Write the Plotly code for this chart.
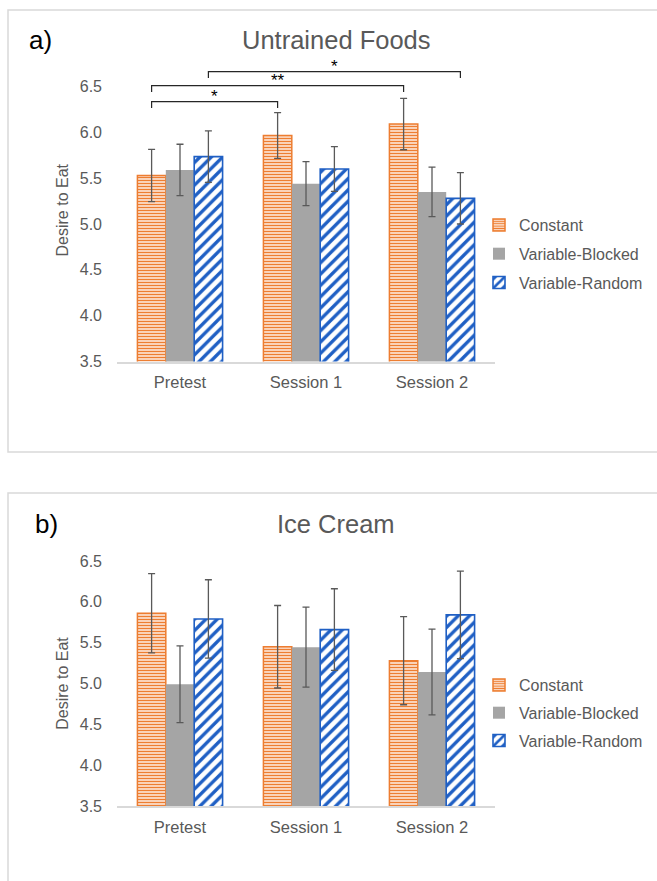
import plotly.graph_objects as go

W, H = 657, 881

categories = ["Pretest", "Session 1", "Session 2"]
series_names = ["Constant", "Variable-Blocked", "Variable-Random"]

# Panel a) Untrained Foods
a_constant = [5.53, 5.965, 6.09]
a_blocked = [5.59, 5.44, 5.35]
a_random = [5.735, 5.60, 5.28]
a_constant_err = [0.285, 0.25, 0.28]
a_blocked_err = [0.28, 0.24, 0.27]
a_random_err = [0.28, 0.245, 0.28]

# Panel b) Ice Cream
b_constant = [5.86, 5.45, 5.28]
b_blocked = [4.99, 5.445, 5.14]
b_random = [5.79, 5.66, 5.84]
b_constant_err = [0.485, 0.505, 0.54]
b_blocked_err = [0.47, 0.49, 0.525]
b_random_err = [0.48, 0.50, 0.535]

y_ticks = [3.5, 4.0, 4.5, 5.0, 5.5, 6.0, 6.5]

# significance brackets (panel a): (from category, from series, to category, to series, level, label)
brackets = [
    (0, 0, 1, 0, 6.335, "*"),
    (0, 0, 2, 0, 6.51, "**"),
    (0, 2, 2, 2, 6.662, "*"),
]
bracket_drop = 0.07

GREY_TXT = "#595959"
FONT = "Liberation Sans, Arial, sans-serif"
ORANGE = "#ED7D31"
GRAY = "#A5A5A5"
BLUE = "#1F5FC4"
BARGAP = 0.324


def px_x(p):
    return p / W


def px_y(p):
    return 1 - p / H


styles = [
    dict(color="white", line=dict(color=ORANGE, width=1.5),
         pattern=dict(shape="-", fgcolor=ORANGE, bgcolor="#FFF0E6", size=3.0, solidity=0.5,
                      fillmode="overlay", fgopacity=1)),
    dict(color=GRAY, line=dict(color=GRAY, width=0)),
    dict(color="white", line=dict(color=BLUE, width=1.6),
         pattern=dict(shape="/", fgcolor=BLUE, bgcolor="white", size=8, solidity=0.42,
                      fillmode="overlay", fgopacity=1)),
]

fig = go.Figure()

panels = [
    dict(vals=[a_constant, a_blocked, a_random], errs=[a_constant_err, a_blocked_err, a_random_err],
         xa="x", ya="y", legend="legend"),
    dict(vals=[b_constant, b_blocked, b_random], errs=[b_constant_err, b_blocked_err, b_random_err],
         xa="x2", ya="y2", legend="legend2"),
]

for p in panels:
    for i, name in enumerate(series_names):
        fig.add_trace(go.Bar(
            x=categories, y=p["vals"][i], name=name, marker=styles[i],
            error_y=dict(type="data", array=p["errs"][i], color="#595959", thickness=1.3, width=3.5),
            xaxis=p["xa"], yaxis=p["ya"], legend=p["legend"], legendgroup=p["legend"] + name,
            cliponaxis=False,
        ))

# pixel layout
x0, x1 = 117, 495
a_bot, a_unit = 361.5, 91.67
b_bot, b_unit = 806, 81.67
a_top_val = 6.8
b_top_val = 6.5

ax_common = dict(showgrid=False, zeroline=False, showline=True, linecolor="#D9D9D9", linewidth=1.5,
                 ticks="", automargin=False, ticklabelstandoff=5,
                 tickfont=dict(family=FONT, size=16.5, color=GREY_TXT), fixedrange=True)
yax_common = dict(showgrid=False, zeroline=False, showline=False, ticks="", automargin=False,
                  tickvals=y_ticks, ticktext=[f"{v:.1f}" for v in y_ticks], fixedrange=True,
                  tickfont=dict(family=FONT, size=16, color=GREY_TXT), ticklabelstandoff=14,
                  title=dict(text="Desire to Eat", font=dict(family=FONT, size=16, color=GREY_TXT), standoff=7))

LEG_FONT = dict(family=FONT, size=16, color=GREY_TXT)

fig.update_layout(
    width=W, height=H, margin=dict(l=0, r=0, t=0, b=0, autoexpand=False),
    paper_bgcolor="white", plot_bgcolor="white",
    barmode="group", bargap=BARGAP, bargroupgap=0,
    showlegend=True,
    xaxis=dict(domain=[px_x(x0), px_x(x1)], anchor="y", **ax_common),
    yaxis=dict(domain=[px_y(a_bot), px_y(a_bot - (a_top_val - 3.5) * a_unit)], range=[3.5, a_top_val],
               anchor="x", **yax_common),
    xaxis2=dict(domain=[px_x(x0), px_x(x1)], anchor="y2", **ax_common),
    yaxis2=dict(domain=[px_y(b_bot), px_y(b_bot - (b_top_val - 3.5) * b_unit)], range=[3.5, b_top_val],
                anchor="x2", **yax_common),
    legend=dict(x=px_x(479), y=px_y(208), xanchor="left", yanchor="top", font=LEG_FONT,
                traceorder="grouped", tracegroupgap=5, bgcolor="rgba(0,0,0,0)", itemwidth=30),
    legend2=dict(x=px_x(479), y=px_y(668), xanchor="left", yanchor="top", font=LEG_FONT,
                 traceorder="grouped", tracegroupgap=4, bgcolor="rgba(0,0,0,0)", itemwidth=30),
)

# panel borders
fig.add_shape(type="rect", xref="paper", yref="paper", x0=px_x(8), x1=px_x(700), y0=px_y(452), y1=px_y(10),
              line=dict(color="#D9D9D9", width=1.5), layer="below")
fig.add_shape(type="rect", xref="paper", yref="paper", x0=px_x(8), x1=px_x(700), y0=px_y(950), y1=px_y(493),
              line=dict(color="#D9D9D9", width=1.5), layer="below")

# titles and panel letters
TITLE_FONT = dict(family=FONT, size=25.5, color=GREY_TXT)
LETTER_FONT = dict(family=FONT, size=26, color="black")
fig.add_annotation(text="Untrained Foods", xref="paper", yref="paper", x=px_x(336), y=px_y(40),
                   xanchor="center", yanchor="middle", showarrow=False, font=TITLE_FONT)
fig.add_annotation(text="a)", xref="paper", yref="paper", x=px_x(40), y=px_y(40),
                   xanchor="center", yanchor="middle", showarrow=False, font=LETTER_FONT)
fig.add_annotation(text="Ice Cream", xref="paper", yref="paper", x=px_x(336), y=px_y(524),
                   xanchor="center", yanchor="middle", showarrow=False, font=TITLE_FONT)
fig.add_annotation(text="b)", xref="paper", yref="paper", x=px_x(46.5), y=px_y(524),
                   xanchor="center", yanchor="middle", showarrow=False, font=LETTER_FONT)

# significance brackets in data coordinates derived from bar layout
bw = (1 - BARGAP) / 3
for c0, s0, c1, s1, lvl, lab in brackets:
    xa = c0 + (s0 - 1) * bw
    xb = c1 + (s1 - 1) * bw
    fig.add_shape(type="path", xref="x", yref="y",
                  path=f"M {xa} {lvl - bracket_drop} L {xa} {lvl} L {xb} {lvl} L {xb} {lvl - bracket_drop}",
                  line=dict(color="#262626", width=1.2))
    fig.add_annotation(text=lab, xref="x", yref="y", x=(xa + xb) / 2, y=lvl, yanchor="bottom",
                       xanchor="center", showarrow=False, yshift=-6, font=dict(family=FONT, size=17, color="black"))

fig.write_html("out.html", config={"displayModeBar": False},
               post_script="document.body.style.margin='0';")
